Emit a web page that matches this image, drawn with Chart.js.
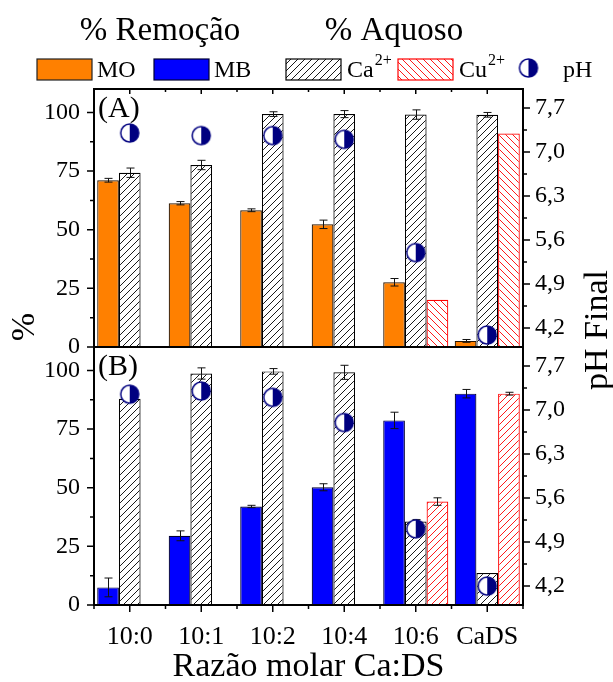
<!DOCTYPE html>
<html>
<head>
<meta charset="utf-8">
<script src="https://cdn.jsdelivr.net/npm/chart.js@4.4.1/dist/chart.umd.min.js"></script>
<style>
  html, body { margin: 0; padding: 0; background: #fff; }
  #plot { display: block; }
</style>
</head>
<body>
<canvas id="plot" width="613" height="682"></canvas>
<script>
const categories = ["10:0", "10:1", "10:2", "10:4", "10:6", "CaDS"];

// painel (A): alaranjado de metila
const moRemoval = [71.1, 61.3, 58.3, 52.3, 27.6, 2.6];
const moRemovalErr = [0.8, 0.7, 0.6, 1.8, 1.6, 0.6];
const caAqueousA = [74.3, 77.6, 99.3, 99.3, 99.1, 99.0];
const caAqueousAErr = [2.0, 2.0, 1.0, 1.5, 2.0, 1.0];
const cuAqueousA = [null, null, null, null, 20.1, 91.0];
const phA = [7.30, 7.26, 7.26, 7.20, 5.40, 4.09];

// painel (B): azul de metileno
const mbRemoval = [7.5, 29.5, 42.0, 50.2, 78.7, 90.1];
const mbRemovalErr = [4.0, 2.1, 0.5, 1.5, 3.5, 1.8];
const caAqueousB = [87.9, 98.7, 99.6, 99.2, 35.6, 13.6];
const caAqueousBErr = [0, 2.4, 1.2, 3.0, 0.8, 0];
const cuAqueousB = [null, null, null, null, 44.1, 90.1];
const cuAqueousBErr = [0, 0, 0, 0, 1.6, 0.6];
const phB = [7.25, 7.30, 7.20, 6.80, 5.11, 4.20];

const percentTicks = [0, 25, 50, 75, 100];
const phTicks = [4.2, 4.9, 5.6, 6.3, 7.0, 7.7];
const phTickLabels = ["4,2", "4,9", "5,6", "6,3", "7,0", "7,7"];

const SERIF = '"Liberation Serif", "DejaVu Serif", serif';
const ORANGE = "#FF8000";
const BLUE = "#0000FF";
const NAVY = "#000080";
const RED = "#FF0000";

function hatch(color, dir) {
  const s = 7;
  const c = document.createElement("canvas");
  c.width = s; c.height = s;
  const g = c.getContext("2d");
  g.fillStyle = "#fff";
  g.fillRect(0, 0, s, s);
  g.strokeStyle = color;
  g.lineWidth = 0.9;
  g.beginPath();
  if (dir > 0) {
    g.moveTo(-1, s + 1); g.lineTo(s + 1, -1);
  } else {
    g.moveTo(-1, -1); g.lineTo(s + 1, s + 1);
  }
  g.stroke();
  return g.createPattern(c, "repeat");
}

function halfMoon(r) {
  const d = 2 * r + 4, m = d / 2;
  const c = document.createElement("canvas");
  c.width = d; c.height = d;
  const g = c.getContext("2d");
  g.fillStyle = "#fff";
  g.beginPath(); g.arc(m, m, r, 0, Math.PI * 2); g.fill();
  g.fillStyle = NAVY;
  g.beginPath(); g.arc(m, m, r, -Math.PI / 2, Math.PI / 2); g.closePath(); g.fill();
  g.strokeStyle = NAVY; g.lineWidth = 1.5;
  g.beginPath(); g.arc(m, m, r, 0, Math.PI * 2); g.stroke();
  return c;
}

const caHatch = hatch("#000", 1);
const cuHatchA = hatch(RED, -1);
const cuHatchB = hatch(RED, 1);
const moon = halfMoon(9);

function pctScale(weight) {
  return {
    type: "linear", position: "left", stack: "pct", stackWeight: 1, weight,
    min: 0, max: 110,
    afterBuildTicks: (s) => { s.ticks = percentTicks.map((v) => ({ value: v })); },
    afterFit: (s) => { s.width = 94; },
    grid: { display: false, drawTicks: false }, border: { display: false },
    ticks: { padding: 14, autoSkip: false, color: "#000", font: { family: SERIF, size: 24 } }
  };
}

function phScale(weight) {
  return {
    type: "linear", position: "right", stack: "ph", stackWeight: 1, weight,
    min: 3.9, max: 8.0,
    afterBuildTicks: (s) => { s.ticks = phTicks.map((v) => ({ value: v })); },
    afterFit: (s) => { s.width = 90; },
    grid: { display: false, drawTicks: false }, border: { display: false },
    ticks: {
      padding: 12, autoSkip: false, color: "#000", font: { family: SERIF, size: 24 },
      callback: (v) => phTickLabels[phTicks.indexOf(Number(v.toFixed(1)))]
    }
  };
}

function midpoints(arr) {
  const out = [];
  for (let i = 1; i < arr.length; i++) out.push((arr[i - 1] + arr[i]) / 2);
  return out;
}

// barras de erro logo depois de cada conjunto de barras
const errorBars = {
  id: "errorBars",
  afterDatasetDraw(chart, args) {
    const ds = chart.data.datasets[args.index];
    if (!ds.err) return;
    const ctx = chart.ctx;
    const scale = chart.scales[ds.yAxisID];
    ctx.save();
    ctx.strokeStyle = "#111";
    ctx.lineWidth = 1;
    args.meta.data.forEach((bar, i) => {
      const v = ds.data[i], e = ds.err[i];
      if (v == null || !e) return;
      const y1 = scale.getPixelForValue(v + e), y2 = scale.getPixelForValue(v - e);
      const x = Math.round(bar.x) + 0.5;
      ctx.beginPath();
      ctx.moveTo(x, y1); ctx.lineTo(x, y2);
      ctx.moveTo(x - 4, y1); ctx.lineTo(x + 4, y1);
      ctx.moveTo(x - 4, y2); ctx.lineTo(x + 4, y2);
      ctx.stroke();
    });
    ctx.restore();
  }
};

// molduras, marcas dos eixos, títulos e legenda
const frame = {
  id: "frame",
  afterDraw(chart) {
    const { ctx, chartArea: a, scales } = chart;
    const line = (x1, y1, x2, y2) => { ctx.moveTo(x1, y1); ctx.lineTo(x2, y2); };
    ctx.save();
    ctx.strokeStyle = "#000";

    // marcas
    ctx.lineWidth = 1.5;
    ctx.beginPath();
    ["yA", "yB"].forEach((id) => {
      const s = scales[id];
      percentTicks.forEach((v) => { const y = s.getPixelForValue(v); line(a.left - 7, y, a.left, y); });
      midpoints(percentTicks).forEach((v) => { const y = s.getPixelForValue(v); line(a.left - 4, y, a.left, y); });
    });
    ["pA", "pB"].forEach((id) => {
      const s = scales[id];
      phTicks.forEach((v) => { const y = s.getPixelForValue(v); line(a.right, y, a.right + 7, y); });
      midpoints(phTicks).forEach((v) => { const y = s.getPixelForValue(v); line(a.right, y, a.right + 4, y); });
    });
    const xs = scales.x;
    const centers = categories.map((_, i) => xs.getPixelForValue(i));
    const half = (centers[1] - centers[0]) / 2;
    const edges = [centers[0] - half].concat(centers.map((c) => c + half));
    centers.forEach((x) => { line(x, a.bottom, x, a.bottom + 7); line(x, a.top, x, a.top + 5); });
    edges.forEach((x) => { line(x, a.bottom, x, a.bottom + 4); line(x, a.top, x, a.top + 3); });
    ctx.stroke();

    // molduras dos dois painéis
    ctx.lineWidth = 2;
    ["yA", "yB"].forEach((id) => {
      const s = scales[id];
      ctx.strokeRect(a.left, s.top, a.right - a.left, s.bottom - s.top);
    });

    // rótulos dos painéis
    ctx.fillStyle = "#000";
    ctx.textAlign = "left";
    ctx.textBaseline = "alphabetic";
    ctx.font = `30px ${SERIF}`;
    ctx.fillText("(A)", a.left + 4, scales.yA.top + 28);
    ctx.fillText("(B)", a.left + 4, scales.yB.top + 28);

    // títulos dos eixos
    ctx.font = `34px ${SERIF}`;
    ctx.textAlign = "center";
    ctx.fillText("Razão molar Ca:DS", (a.left + a.right) / 2, 676);
    ctx.textBaseline = "middle";
    ctx.save(); ctx.translate(25, 327); ctx.rotate(-Math.PI / 2); ctx.fillText("%", 0, 0); ctx.restore();
    ctx.save(); ctx.translate(598, 330); ctx.rotate(-Math.PI / 2); ctx.fillText("pH Final", 0, 0); ctx.restore();

    // cabeçalhos da legenda
    ctx.textBaseline = "alphabetic";
    ctx.font = `33px ${SERIF}`;
    ctx.fillText("% Remoção", 160, 40);
    ctx.fillText("% Aquoso", 394, 40);

    // itens da legenda
    const box = (x, fill, stroke) => {
      ctx.fillStyle = fill; ctx.fillRect(x, 59, 55, 21);
      ctx.strokeStyle = stroke; ctx.lineWidth = 1.2; ctx.strokeRect(x, 59, 55, 21);
    };
    const label = (x, text, sup) => {
      ctx.fillStyle = "#000"; ctx.textAlign = "left";
      ctx.font = `24px ${SERIF}`;
      ctx.fillText(text, x, 77);
      if (sup) {
        const w = ctx.measureText(text).width;
        ctx.font = `16px ${SERIF}`;
        ctx.fillText(sup, x + w + 1, 65);
      }
    };
    box(37, ORANGE, "#222"); label(97, "MO");
    box(154, BLUE, "#000033"); label(214, "MB");
    box(286, caHatch, "#000"); label(347, "Ca", "2+");
    box(398, cuHatchA, RED); label(459, "Cu", "2+");
    ctx.drawImage(moon, 528.5 - moon.width / 2, 68 - moon.height / 2);
    label(563, "pH");
    ctx.restore();
  }
};

const barBase = { borderWidth: 1.2, categoryPercentage: 0.91, barPercentage: 1.0 };

new Chart(document.getElementById("plot"), {
  type: "bar",
  data: {
    labels: categories,
    datasets: [
      { type: "line", label: "pH A", data: phA, yAxisID: "pA", showLine: false, pointStyle: moon, clip: false, order: -1 },
      { type: "line", label: "pH B", data: phB, yAxisID: "pB", showLine: false, pointStyle: moon, clip: false, order: -1 },
      { ...barBase, label: "MO", data: moRemoval, err: moRemovalErr, yAxisID: "yA", stack: "rem", backgroundColor: ORANGE, borderColor: "#2a1500" },
      { ...barBase, label: "MB", data: mbRemoval, err: mbRemovalErr, yAxisID: "yB", stack: "rem", backgroundColor: BLUE, borderColor: "#000033" },
      { ...barBase, label: "Ca2+ A", data: caAqueousA, err: caAqueousAErr, yAxisID: "yA", stack: "ca", backgroundColor: caHatch, borderColor: "#000" },
      { ...barBase, label: "Ca2+ B", data: caAqueousB, err: caAqueousBErr, yAxisID: "yB", stack: "ca", backgroundColor: caHatch, borderColor: "#000" },
      { ...barBase, label: "Cu2+ A", data: cuAqueousA, yAxisID: "yA", stack: "cu", backgroundColor: cuHatchA, borderColor: RED },
      { ...barBase, label: "Cu2+ B", data: cuAqueousB, err: cuAqueousBErr, yAxisID: "yB", stack: "cu", backgroundColor: cuHatchB, borderColor: RED }
    ]
  },
  options: {
    responsive: false,
    animation: false,
    devicePixelRatio: 1,
    layout: { padding: { top: 89, left: 0, right: 0, bottom: 0 } },
    plugins: { legend: { display: false }, tooltip: { enabled: false } },
    scales: {
      x: {
        type: "category",
        grid: { display: false, drawTicks: false }, border: { display: false },
        afterFit: (s) => { s.height = 77; },
        ticks: { padding: 17, color: "#000", font: { family: SERIF, size: 26 }, maxRotation: 0, autoSkip: false }
      },
      yA: pctScale(1),
      yB: pctScale(0),
      pA: phScale(0),
      pB: phScale(1)
    }
  },
  plugins: [errorBars, frame]
});
</script>
</body>
</html>
